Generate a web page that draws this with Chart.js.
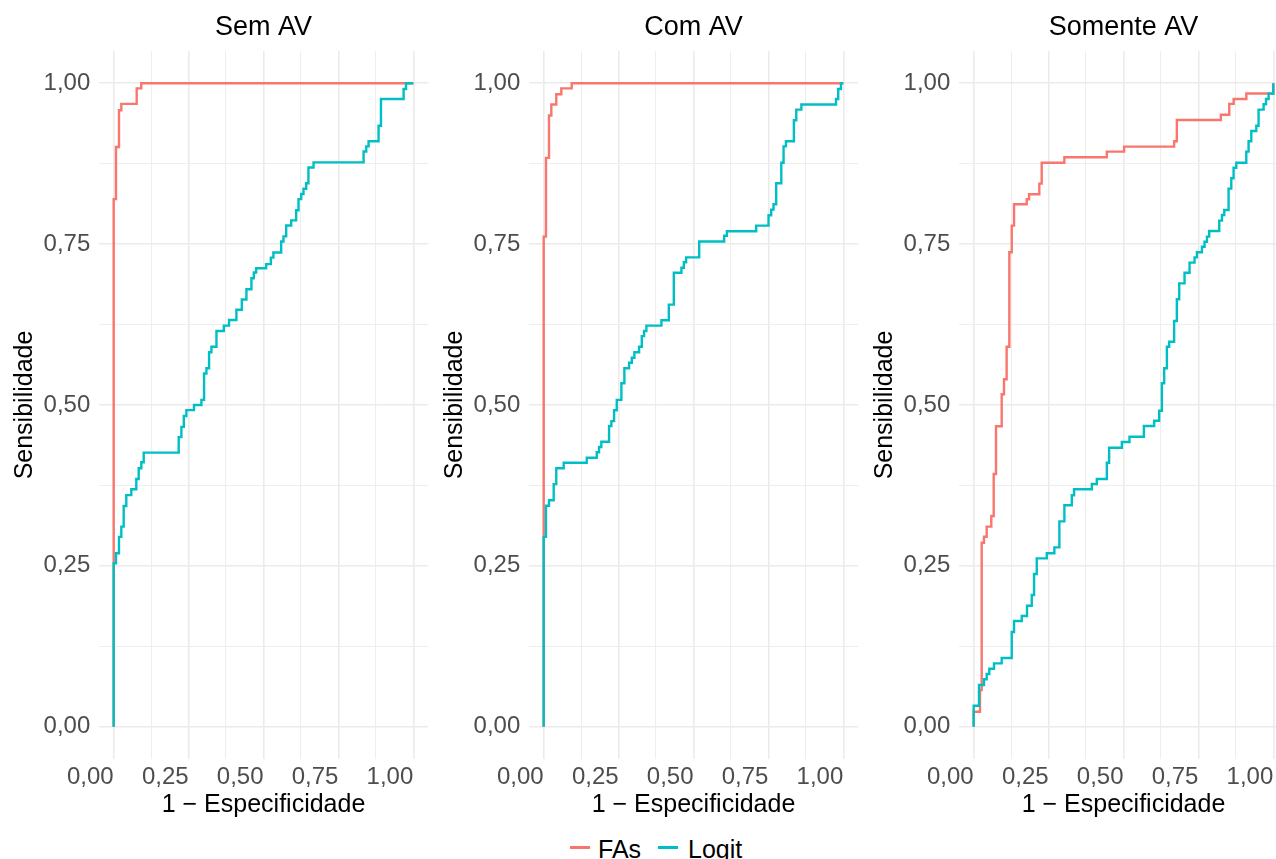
<!DOCTYPE html>
<html>
<head>
<meta charset="utf-8">
<script src="https://cdn.jsdelivr.net/npm/chart.js@4.4.1/dist/chart.umd.min.js"></script>
<style>
html,body{margin:0;padding:0;background:#fff;overflow:hidden;width:1276px;height:859px;position:relative;}
canvas{position:absolute;top:0;}
.lg-line{position:absolute;height:2.4px;width:20px;top:846.4px;}
.lg-text{position:absolute;top:833.6px;font-family:'Liberation Sans',Arial,sans-serif;font-size:25px;line-height:30px;color:#000;white-space:nowrap;}
</style>
</head>
<body>
<canvas id="c0" width="430" height="829" style="left:0px"></canvas>
<canvas id="c1" width="430" height="829" style="left:430px"></canvas>
<canvas id="c2" width="430" height="829" style="left:860px"></canvas>
<div class="lg-line" style="left:570px;background:#F8766D"></div>
<div class="lg-text" style="left:598px">FAs</div>
<div class="lg-line" style="left:658px;background:#00BFC4"></div>
<div class="lg-text" style="left:688px">Logit</div>
<script>
// ---- data (1 - especificidade, sensibilidade) ----
const panelTitles = ['Sem AV', 'Com AV', 'Somente AV'];
const seriesNames = ['FAs', 'Logit'];
const majorTicks = [0, 0.25, 0.5, 0.75, 1];
const minorTicks = [0.125, 0.375, 0.625, 0.875];
const tickLabels = ['0,00', '0,25', '0,50', '0,75', '1,00'];

const semAV_FAs_x = [0, 0, 0.0077, 0.0177, 0.0255, 0.0768, 0.092, 1];
const semAV_FAs_y = [0, 0.820, 0.901, 0.958, 0.968, 0.992, 1, 1];

const semAV_Logit_x = [0, 0, 0.0077, 0.0177, 0.0255, 0.0334, 0.0421, 0.0588, 0.0755, 0.0835, 0.0922, 0.1002, 0.217, 0.226, 0.234, 0.2426, 0.268, 0.2927, 0.3017, 0.3095, 0.3184, 0.3261, 0.343, 0.3675, 0.385, 0.4096, 0.4276, 0.443, 0.4597, 0.4677, 0.4754, 0.5089, 0.5246, 0.533, 0.559, 0.5667, 0.5757, 0.5924, 0.609, 0.6168, 0.6258, 0.6335, 0.6425, 0.650, 0.667, 0.834, 0.843, 0.8507, 0.884, 0.892, 0.9676, 0.9756, 1];
const semAV_Logit_y = [0, 0.254, 0.2695, 0.295, 0.311, 0.343, 0.360, 0.369, 0.385, 0.4016, 0.411, 0.426, 0.450, 0.466, 0.483, 0.492, 0.500, 0.508, 0.549, 0.557, 0.582, 0.5906, 0.615, 0.6233, 0.632, 0.648, 0.664, 0.680, 0.697, 0.706, 0.7125, 0.719, 0.729, 0.737, 0.754, 0.762, 0.779, 0.787, 0.8026, 0.820, 0.828, 0.836, 0.8446, 0.869, 0.877, 0.894, 0.902, 0.910, 0.934, 0.9756, 0.991, 1, 1];

const comAV_FAs_x = [0, 0, 0.0077, 0.0177, 0.0255, 0.042, 0.0588, 0.0935, 1];
const comAV_FAs_y = [0, 0.7616, 0.884, 0.950, 0.967, 0.983, 0.992, 1, 1];

const comAV_Logit_x = [0, 0, 0.0077, 0.0177, 0.0334, 0.042, 0.0668, 0.1437, 0.1771, 0.1848, 0.1924, 0.2182, 0.2259, 0.2349, 0.2439, 0.2593, 0.2693, 0.285, 0.294, 0.3027, 0.3184, 0.3274, 0.3351, 0.3428, 0.393, 0.4176, 0.4343, 0.4597, 0.4677, 0.4754, 0.519, 0.6024, 0.6114, 0.7093, 0.7504, 0.7594, 0.767, 0.776, 0.793, 0.8006, 0.8085, 0.835, 0.843, 0.860, 0.9756, 0.983, 0.992, 1];
const comAV_Logit_y = [0, 0.295, 0.3435, 0.352, 0.377, 0.4016, 0.4103, 0.418, 0.4265, 0.4347, 0.443, 0.4674, 0.475, 0.4918, 0.508, 0.5337, 0.557, 0.5657, 0.5735, 0.582, 0.5906, 0.607, 0.615, 0.6233, 0.6316, 0.656, 0.7056, 0.7134, 0.7218, 0.7295, 0.754, 0.7631, 0.770, 0.7787, 0.795, 0.8036, 0.812, 0.8446, 0.8766, 0.902, 0.910, 0.9425, 0.959, 0.967, 0.9756, 0.991, 1, 1];

const somAV_FAs_x = [0, 0, 0.021, 0.0267, 0.0344, 0.0434, 0.0588, 0.0668, 0.0745, 0.0935, 0.1012, 0.110, 0.119, 0.127, 0.1347, 0.177, 0.1848, 0.219, 0.227, 0.3027, 0.4444, 0.502, 0.669, 0.678, 0.825, 0.853, 0.8676, 0.910, 0.9756, 1];
const somAV_FAs_y = [0, 0.0233, 0.057, 0.286, 0.2953, 0.311, 0.3275, 0.3928, 0.467, 0.5166, 0.540, 0.5906, 0.7373, 0.7787, 0.812, 0.8197, 0.8275, 0.844, 0.8766, 0.885, 0.8937, 0.9015, 0.910, 0.943, 0.951, 0.968, 0.9756, 0.984, 0.984, 1];

const somAV_Logit_x = [0, 0, 0.0177, 0.0344, 0.0434, 0.0521, 0.0678, 0.0935, 0.127, 0.1347, 0.1604, 0.178, 0.1938, 0.2015, 0.2105, 0.2439, 0.2693, 0.286, 0.3027, 0.3274, 0.3351, 0.3943, 0.411, 0.4444, 0.452, 0.4945, 0.52, 0.568, 0.6024, 0.619, 0.628, 0.6358, 0.6448, 0.6525, 0.669, 0.678, 0.686, 0.7037, 0.7204, 0.737, 0.745, 0.7618, 0.7705, 0.7785, 0.786, 0.8196, 0.8286, 0.8363, 0.8507, 0.8597, 0.8674, 0.8764, 0.9098, 0.9175, 0.9265, 0.9432, 0.9508, 0.9676, 0.9756, 0.9843, 1];
const somAV_Logit_y = [0, 0.0326, 0.0648, 0.0737, 0.0819, 0.0902, 0.0985, 0.1068, 0.1472, 0.1643, 0.172, 0.188, 0.2047, 0.2373, 0.2617, 0.2695, 0.2788, 0.3192, 0.3441, 0.3597, 0.369, 0.3772, 0.385, 0.4103, 0.4336, 0.4425, 0.4507, 0.4674, 0.4756, 0.4911, 0.5337, 0.557, 0.5906, 0.5984, 0.6306, 0.6643, 0.689, 0.7056, 0.7212, 0.7295, 0.7373, 0.746, 0.7538, 0.7616, 0.7704, 0.7865, 0.7953, 0.803, 0.8362, 0.8523, 0.8688, 0.8766, 0.8937, 0.910, 0.9259, 0.934, 0.959, 0.9674, 0.9756, 0.9839, 1];

const seriesColors = ['#F8766D', '#00BFC4'];

// ---- drawing ----
Chart.defaults.font.family = "'Liberation Sans', Arial, Helvetica, sans-serif";
const allTicks = majorTicks.concat(minorTicks).sort((a, b) => a - b);
const pts = (xs, ys) => xs.map((x, i) => ({ x: x, y: ys[i] }));
const isMajor = v => majorTicks.some(m => Math.abs(m - v) < 1e-9);
const labelFor = v => { const i = majorTicks.findIndex(m => Math.abs(m - v) < 1e-9); return i >= 0 ? tickLabels[i] : ''; };

const gridCfg = {
  drawTicks: false,
  color: ctx => isMajor(ctx.tick ? ctx.tick.value : 0) ? '#EBEBEB' : '#EEEEEE',
  lineWidth: ctx => isMajor(ctx.tick ? ctx.tick.value : 0) ? 1.6 : 1.1
};

function makePanel(id, title, fasX, fasY, logX, logY) {
  new Chart(document.getElementById(id), {
    type: 'line',
    data: {
      datasets: [
        { label: seriesNames[0], data: pts(fasX, fasY), borderColor: seriesColors[0], backgroundColor: seriesColors[0], borderWidth: 2.4, pointRadius: 0, stepped: 'before', order: 2, fill: false },
        { label: seriesNames[1], data: pts(logX, logY), borderColor: seriesColors[1], backgroundColor: seriesColors[1], borderWidth: 2.4, pointRadius: 0, stepped: 'before', order: 1, fill: false }
      ]
    },
    options: {
      responsive: false,
      animation: false,
      devicePixelRatio: 1,
      layout: { padding: { left: 0, right: 1.7, top: 0, bottom: 0 } },
      plugins: {
        legend: { display: false },
        tooltip: { enabled: false },
        title: { display: true, text: title, color: '#000', fullSize: false, font: { size: 27, weight: 'normal' }, padding: { top: 11.5, bottom: 7.2 } }
      },
      scales: {
        x: {
          type: 'linear', min: -0.05, max: 1.05,
          afterBuildTicks: s => { s.ticks = allTicks.map(v => ({ value: v })); },
          afterFit: s => { s.height = 70.1; },
          ticks: { callback: v => labelFor(v), align: 'end', padding: 4.1, autoSkip: false, maxRotation: 0, minRotation: 0, color: '#4D4D4D', font: { size: 24 } },
          grid: gridCfg,
          border: { display: false },
          title: { display: true, text: '1 − Especificidade', color: '#000', font: { size: 25 }, padding: { top: 0, bottom: 8.5 } }
        },
        y: {
          type: 'linear', min: -0.05, max: 1.05,
          afterBuildTicks: s => { s.ticks = allTicks.map(v => ({ value: v })); },
          afterFit: s => { s.width = 98.7; },
          ticks: { callback: v => labelFor(v), padding: 8.4, autoSkip: false, color: '#4D4D4D', font: { size: 24 } },
          grid: gridCfg,
          border: { display: false },
          title: { display: true, text: 'Sensibilidade', color: '#000', font: { size: 25 }, padding: { top: 9.7, bottom: 0 } }
        }
      }
    }
  });
}

makePanel('c0', panelTitles[0], semAV_FAs_x, semAV_FAs_y, semAV_Logit_x, semAV_Logit_y);
makePanel('c1', panelTitles[1], comAV_FAs_x, comAV_FAs_y, comAV_Logit_x, comAV_Logit_y);
makePanel('c2', panelTitles[2], somAV_FAs_x, somAV_FAs_y, somAV_Logit_x, somAV_Logit_y);
</script>
</body>
</html>
